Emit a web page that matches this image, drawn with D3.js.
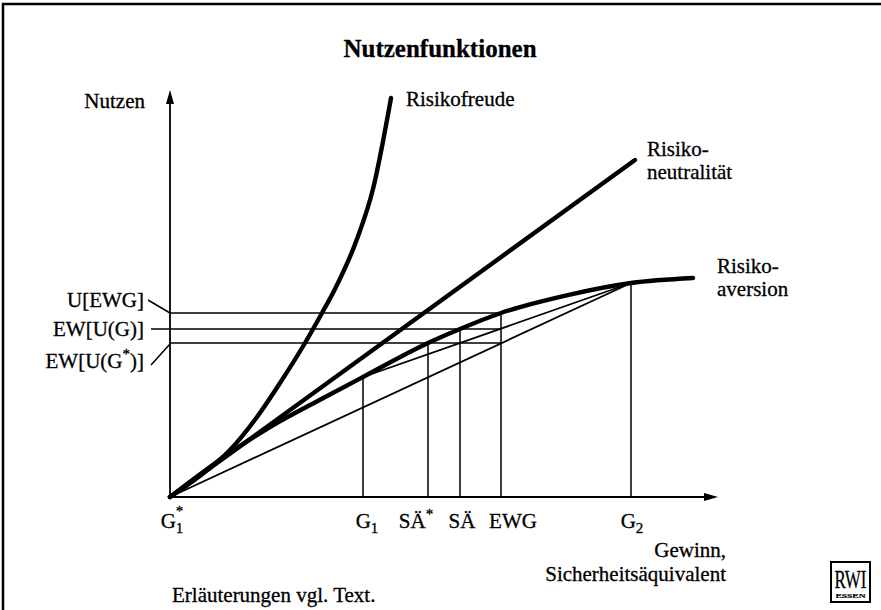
<!DOCTYPE html>
<html>
<head>
<meta charset="utf-8">
<script src="https://cdn.jsdelivr.net/npm/d3@7"></script>
<style>
  body { margin: 0; background: #fff; }
  text { stroke: #000; stroke-width: 0.3px; }
</style>
</head>
<body>
<svg id="chart" width="881" height="610" font-family="'Liberation Serif', 'DejaVu Serif', 'Times New Roman', serif"></svg>
<script>
// ---- data ----
// points on the gain axis: G1*, G1, SÄ*, SÄ, EWG, G2
var gainLabels  = ["G1*", "G1", "SÄ*", "SÄ", "EWG", "G2"];
var gainValues  = [0, 38.6, 51.6, 58, 66.2, 92.2];
var gainUtility = [0, 30, 38.5, 42, 46, 53.5];   // height where each vertical meets the aversion curve

// utility levels marked on the y axis
var utilityLabels = ["U[EWG]", "EW[U(G)]", "EW[U(G*)]"];
var utilityValues = [46, 42, 38.5];

// the three utility functions
var aversionX = [0, 10, 20, 30, 38.6, 51.6, 58, 66.2, 80, 92.2, 104.6];
var aversionY = [0, 9.3, 17.5, 24.3, 30, 38.5, 42, 46, 50.6, 53.5, 54.75];
var freudeX   = [0, 6, 12, 17.4, 22, 27, 30.4, 33, 37.4, 40.6, 44.2];
var freudeY   = [0, 5.3, 11.75, 20, 28.5, 38.5, 46, 52, 64.5, 77, 99.75];
var neutralX  = [0, 93];
var neutralY  = [0, 84.25];

// ---- layout ----
var svg = d3.select("#chart");
var fs = "21px";

var x = d3.scaleLinear().domain([0, 110]).range([170, 720]);
var y = d3.scaleLinear().domain([0, 100]).range([497, 97]);

function zip(xs, ys) { return xs.map(function(v, i) { return [v, ys[i]]; }); }

var line = d3.line()
    .x(function(d) { return x(d[0]); })
    .y(function(d) { return y(d[1]); })
    .curve(d3.curveMonotoneX);

// frame
svg.append("rect")
    .attr("x", 3).attr("y", 4).attr("width", 920).attr("height", 700)
    .attr("fill", "none").attr("stroke", "#000").attr("stroke-width", 2.5);

// title
svg.append("text")
    .attr("x", 440).attr("y", 57)
    .attr("text-anchor", "middle")
    .style("font-size", "25px").style("font-weight", "bold")
    .text("Nutzenfunktionen");

// text with sub / superscripts
function parts(label) {
    var map = {
        "G1*": [["G"], ["1", "sub"], ["*", "supback"]],
        "G1": [["G"], ["1", "sub"]],
        "G2": [["G"], ["2", "sub"]],
        "SÄ*": [["SÄ"], ["*", "sup"]],
        "EW[U(G*)]": [["EW[U(G"], ["*", "sup"], [")]"]]
    };
    return map[label] || [[label]];
}
function rich(sel, label) {
    var cur = 0;
    parts(label).forEach(function(p) {
        var t = sel.append("tspan").text(p[0]);
        var target = 0;
        if (p[1] === "sub") { target = 5; t.style("font-size", "15px"); }
        if (p[1] === "sup") { target = -9; t.style("font-size", "15px"); }
        if (p[1] === "supback") { target = -12; t.style("font-size", "15px").attr("dx", -7.5); }
        if (target !== cur) t.attr("dy", target - cur);
        cur = target;
    });
}

// axes
var g = svg.append("g");
g.append("line")
    .attr("x1", x(0)).attr("y1", y(0)).attr("x2", x(0)).attr("y2", y(101))
    .attr("stroke", "#000").attr("stroke-width", 1.8);
g.append("path")
    .attr("d", "M" + x(0) + "," + (y(101) - 3) + "l-4,14h8z")
    .attr("fill", "#000");
g.append("line")
    .attr("x1", x(0)).attr("y1", y(0)).attr("x2", x(109)).attr("y2", y(0))
    .attr("stroke", "#000").attr("stroke-width", 1.8);
g.append("path")
    .attr("d", "M" + (x(109) + 3) + "," + y(0) + "l-14,-4v8z")
    .attr("fill", "#000");

// horizontal utility lines, from the y axis to EWG
var ewg = gainValues[4];
g.selectAll(".hline").data(utilityValues).enter().append("line")
    .attr("class", "hline")
    .attr("x1", x(0)).attr("x2", x(ewg))
    .attr("y1", function(d) { return y(d); }).attr("y2", function(d) { return y(d); })
    .attr("stroke", "#000").attr("stroke-width", 1.5);

// vertical lines from the gain axis up to the curve
g.selectAll(".vline").data(gainValues.slice(1)).enter().append("line")
    .attr("class", "vline")
    .attr("x1", function(d) { return x(d); }).attr("x2", function(d) { return x(d); })
    .attr("y1", y(0))
    .attr("y2", function(d, i) { return y(gainUtility[i + 1]); })
    .attr("stroke", "#000").attr("stroke-width", 1.5);

// chords: G1 -> G2 and origin -> G2
var chords = [[1, 5], [0, 5]];
chords.forEach(function(c) {
    g.append("line")
        .attr("x1", x(gainValues[c[0]])).attr("y1", y(gainUtility[c[0]]))
        .attr("x2", x(gainValues[c[1]])).attr("y2", y(gainUtility[c[1]]))
        .attr("stroke", "#000").attr("stroke-width", 1.8);
});

// the three curves
[zip(freudeX, freudeY), zip(neutralX, neutralY), zip(aversionX, aversionY)].forEach(function(pts) {
    g.append("path")
        .attr("d", line(pts))
        .attr("fill", "none").attr("stroke", "#000")
        .attr("stroke-width", 4.4).attr("stroke-linecap", "round");
});

// gain axis labels
var nudge = [2, 4, -12, 2, 12, 1];
gainLabels.forEach(function(lab, i) {
    var t = svg.append("text")
        .attr("x", x(gainValues[i]) + nudge[i]).attr("y", 528)
        .attr("text-anchor", "middle")
        .style("font-size", fs);
    rich(t, lab);
});

// utility labels with leader lines
var lab = [
    { dy: -6, lead: [[-22, -13], [0, 0]] },
    { dy: 7,  lead: [[-19, 0], [0, 0]] },
    { dy: 25, lead: [[-19, 22], [0, 1]] }
];
utilityLabels.forEach(function(name, i) {
    var yy = y(utilityValues[i]);
    var t = svg.append("text")
        .attr("x", x(0) - 26).attr("y", yy + lab[i].dy)
        .attr("text-anchor", "end")
        .style("font-size", fs);
    rich(t, name);
    svg.append("line")
        .attr("x1", x(0) + lab[i].lead[0][0]).attr("y1", yy + lab[i].lead[0][1])
        .attr("x2", x(0) + lab[i].lead[1][0]).attr("y2", yy + lab[i].lead[1][1])
        .attr("stroke", "#000").attr("stroke-width", 1.5);
});

// axis titles and curve names
function label(tx, ty, s, anchor) {
    svg.append("text")
        .attr("x", tx).attr("y", ty)
        .attr("text-anchor", anchor || "start")
        .style("font-size", fs)
        .text(s);
}
label(145, 108, "Nutzen", "end");
label(406, 106, "Risikofreude");
label(647, 156, "Risiko-");
label(647, 179, "neutralität");
label(717, 273, "Risiko-");
label(717, 296, "aversion");
label(726, 557, "Gewinn,", "end");
label(726, 581, "Sicherheitsäquivalent", "end");
label(172, 602, "Erläuterungen vgl. Text.");

// RWI logo
var logo = svg.append("g");
logo.append("rect")
    .attr("x", 831).attr("y", 562).attr("width", 39).attr("height", 40)
    .attr("fill", "none").attr("stroke", "#000").attr("stroke-width", 2);
logo.append("text")
    .attr("x", 850.5).attr("y", 588)
    .attr("text-anchor", "middle")
    .attr("textLength", 32).attr("lengthAdjust", "spacingAndGlyphs")
    .style("font-size", "25px")
    .text("RWI");
logo.append("text")
    .attr("x", 850.5).attr("y", 598)
    .attr("text-anchor", "middle")
    .attr("textLength", 30).attr("lengthAdjust", "spacingAndGlyphs")
    .style("font-size", "7px").style("font-weight", "bold").style("stroke-width", "0.2px")
    .text("ESSEN");
</script>
</body>
</html>
